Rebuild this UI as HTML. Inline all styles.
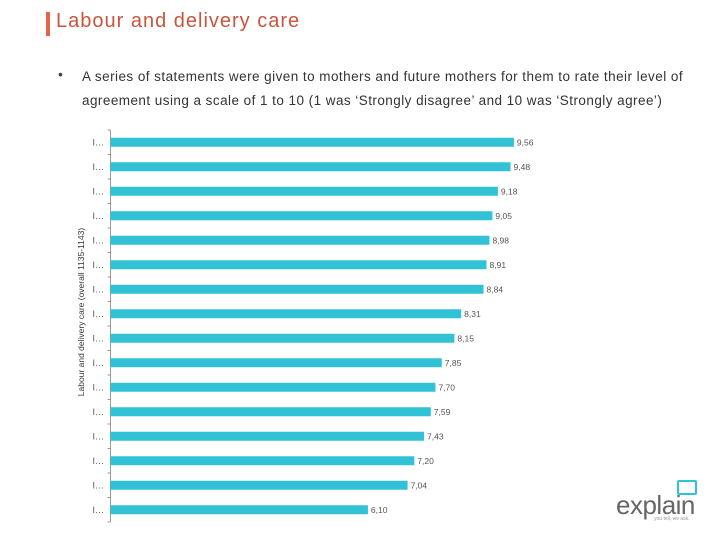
<!DOCTYPE html>
<html><head><meta charset="utf-8"><style>
body{margin:0;width:720px;height:540px;background:#fff;font-family:"Liberation Sans",sans-serif;position:relative;overflow:hidden}
.t{position:absolute}
</style></head><body>
<div class="t" style="left:46px;top:12px;width:4px;height:24px;background:#e0674d"></div>
<div class="t" style="left:56px;top:10px;font-size:20px;letter-spacing:1px;color:#c8553d">Labour and delivery care</div>
<div class="t" style="left:58px;top:66px;font-size:14px;color:#444">•</div>
<div class="t" style="left:82px;top:65px;width:620px;font-size:13.5px;letter-spacing:0.45px;line-height:24px;color:#333">A series of statements were given to mothers and future mothers for them to rate their level of agreement using a scale of 1 to 10 (1 was ‘Strongly disagree’ and 10 was ‘Strongly agree’)</div>
<svg class="t" style="left:0;top:0" width="720" height="540">
<text transform="translate(84,312) rotate(-90)" text-anchor="middle" font-size="8.5" fill="#333" font-family="Liberation Sans">Labour and delivery care (overall 1135-1143)</text>
<g id="g"></g>
</svg>
<div class="t" style="left:616px;top:490px;font-size:26px;color:#666;letter-spacing:-0.5px">explain</div>
<div class="t" style="left:677px;top:480px;width:16px;height:11px;border:2px solid #2ec4d4;border-radius:2px"></div>
<div class="t" style="left:654px;top:516px;font-size:5px;color:#999">you tell, we ask.</div>
<script>
const categories=["I…","I…","I…","I…","I…","I…","I…","I…","I…","I…","I…","I…","I…","I…","I…","I…"];
const values=[9.56,9.48,9.18,9.05,8.98,8.91,8.84,8.31,8.15,7.85,7.70,7.59,7.43,7.20,7.04,6.10];
const labels=["9,56","9,48","9,18","9,05","8,98","8,91","8,84","8,31","8,15","7,85","7,70","7,59","7,43","7,20","7,04","6,10"];
(function(){
const NS="http://www.w3.org/2000/svg",g=document.getElementById('g');
const x0=110.5,ppu=42.2,y0=130,step=24.5,bh=9;
const xs=v=>x0+v*ppu;
function mk(t,a){const e=document.createElementNS(NS,t);for(const k in a)e.setAttribute(k,a[k]);g.appendChild(e);return e;}
const ax=mk('line',{x1:x0,y1:y0,x2:x0,y2:y0+step*values.length,stroke:'#999','stroke-width':1});


for(let i=0;i<=values.length;i++){const tk=mk('line',{x1:x0-3,x2:x0,y1:y0+i*step,y2:y0+i*step,stroke:'#999'});

}
values.forEach((v,i)=>{const cy=y0+step*(i+0.5);
const r=mk('rect',{x:x0,y:cy-bh/2,width:xs(v)-x0,height:bh,fill:'#31c3d5'});


const c=mk('text',{x:104,y:cy+3,'text-anchor':'end','font-size':9,fill:'#555','font-family':'Liberation Sans'});c.textContent=categories[i];


const l=mk('text',{x:xs(v)+3,y:cy+3,'font-size':8.5,fill:'#555','font-family':'Liberation Sans'});l.textContent=labels[i];

});
})();
</script>
</body></html>
